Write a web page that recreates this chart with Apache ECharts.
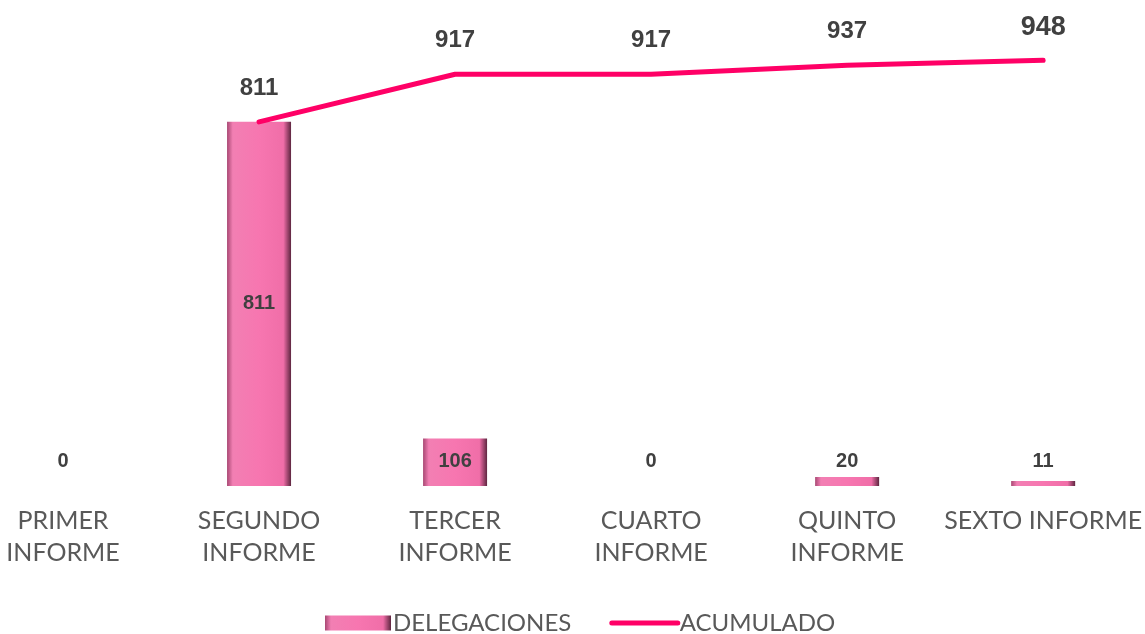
<!DOCTYPE html>
<html>
<head>
<meta charset="utf-8">
<script src="https://cdn.jsdelivr.net/npm/echarts@6/dist/echarts.min.js"></script>
<style>
  html, body { margin: 0; padding: 0; background: #fff; overflow: hidden; }
  /* el grafico original esta recortado a la izquierda */
  #chart { width: 1180px; height: 634px; margin-left: -35px; }
</style>
</head>
<body>
<div id="chart"></div>
<script>
// categorias del eje
const categories = ['PRIMER\nINFORME', 'SEGUNDO\nINFORME', 'TERCER\nINFORME', 'CUARTO\nINFORME', 'QUINTO\nINFORME', 'SEXTO INFORME'];
// delegaciones por informe
const delegaciones = [0, 811, 106, 0, 20, 11];
// acumulado (no hay punto en el primer informe)
const acumulado = ['-', 811, 917, 917, 937, 948];

const chart = echarts.init(document.getElementById('chart'));

// relleno tipo bisel de Excel
const barFill = new echarts.graphic.LinearGradient(0, 0, 1, 0, [
  { offset: 0, color: '#a84873' },
  { offset: 0.09, color: '#f27fb3' },
  { offset: 0.5, color: '#f776b0' },
  { offset: 0.88, color: '#f06ea8' },
  { offset: 1, color: '#5e2640' }
]);

const barData = delegaciones.map(v => ({
  value: v,
  label: v > 300
    ? { position: 'inside' }
    : { position: 'insideBottom', distance: 15 }
}));

const lineData = acumulado.map(v => ({
  value: v,
  label: v === 948 ? { fontSize: 27, distance: 19 } : {}
}));

const option = {
  animation: false,
  textStyle: { fontFamily: 'Lato' },
  grid: { left: 0, right: 2, top: 37, bottom: 148 },
  legend: {
    top: 606,
    left: 355,
    itemWidth: 66,
    itemHeight: 15,
    itemGap: 38,
    textStyle: { fontFamily: 'Lato', fontSize: 24, color: '#595959', padding: [0, 0, 0, -3] },
    data: [
      { name: 'DELEGACIONES', icon: 'rect' },
      { name: 'ACUMULADO', itemStyle: { opacity: 0 }, lineStyle: { width: 5, color: '#ff0066', cap: 'round' } }
    ]
  },
  xAxis: {
    type: 'category',
    data: categories,
    axisLine: { show: false },
    axisTick: { show: false },
    axisLabel: {
      margin: 19,
      fontFamily: 'Lato',
      fontSize: 25,
      lineHeight: 32,
      color: '#595959',
      interval: 0
    }
  },
  yAxis: {
    type: 'value',
    min: 0,
    max: 1000,
    show: false,
    splitLine: { show: false }
  },
  series: [
    {
      name: 'DELEGACIONES',
      type: 'bar',
      data: barData,
      barWidth: 64,
      itemStyle: { color: barFill },
      label: {
        show: true,
        fontFamily: 'Liberation Sans',
        fontWeight: 'bold',
        fontSize: 20,
        color: '#404040'
      }
    },
    {
      name: 'ACUMULADO',
      type: 'line',
      data: lineData,
      symbol: 'circle',
      symbolSize: 1,
      lineStyle: { color: '#ff0066', width: 5, cap: 'round' },
      itemStyle: { color: '#ff0066' },
      label: {
        show: true,
        position: 'top',
        distance: 21,
        fontFamily: 'Liberation Sans',
        fontWeight: 'bold',
        fontSize: 24,
        color: '#404040'
      }
    }
  ]
};

chart.setOption(option);
</script>
</body>
</html>
